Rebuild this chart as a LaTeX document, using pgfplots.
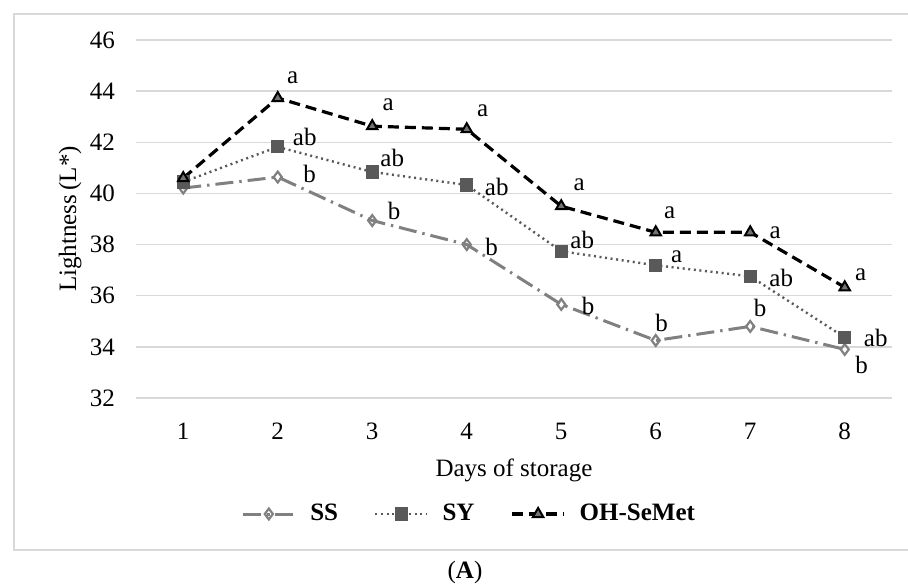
\documentclass[border=0pt]{standalone}
\usepackage{pgfplots}
\usepackage{pgfplotstable}
\pgfplotsset{compat=1.18}
\usepackage{fontspec}
\setmainfont{Liberation Serif}

\definecolor{ssgray}{HTML}{808080}
\definecolor{sygray}{HTML}{595959}
\definecolor{gridgray}{HTML}{D9D9D9}
\newcommand\chartfont{\fontsize{12.5}{15}\selectfont}

% x, lightness, letter, label offset (pt)
\pgfplotstableread{
x y lab dx dy
1 40.21 {} 0 0
2 40.64 b 16 1.5
3 38.94 b 11 5
4 38.00 b 12.5 -1
5 35.66 b 13.5 -1
6 34.25 b 3 9
7 34.80 b 5 9
8 33.90 b 8.5 -8
}\ss
\pgfplotstableread{
x y lab dx dy
1 40.45 {} 0 0
2 41.82 ab 13.5 5
3 40.84 ab 10 7
4 40.33 ab 15 -1
5 37.74 ab 10.5 5.5
6 37.19 a 10.5 4.5
7 36.76 ab 15.5 -1
8 34.37 ab 15.5 -0.5
}\sy
\pgfplotstableread{
x y lab dx dy
1 40.60 {} 0 0
2 43.73 a 7.5 10
3 42.63 a 8 10.5
4 42.51 a 8 9
5 39.50 a 9 10.5
6 38.48 a 7 10
7 38.48 a 12.5 0
8 36.33 a 8 6.5
}\oh

\begin{document}
\begin{tikzpicture}[font=\chartfont]
\begin{axis}[
  name=ax,
  scale only axis,
  width=378pt, height=179pt,
  xmin=0.5, xmax=8.5,
  ymin=32, ymax=46,
  xtick={1,...,8},
  ytick={32,34,...,46},
  axis line style={draw=none},
  tick style={draw=none},
  ymajorgrids,
  grid style={gridgray, line width=0.75pt},
  major tick length=0pt,
  /pgf/number format/assume math mode=true,
  tick label style={font=\chartfont},
  label style={font=\chartfont},
  xticklabel style={yshift=-9pt},
  yticklabel style={xshift=-7pt},
  xlabel={Days of storage},
  xlabel style={at={(axis description cs:0.5,-0.201)}, anchor=center},
  ylabel={Lightness\,(L*)},
  ylabel style={at={(axis description cs:-0.087,0.5)}, anchor=center, rotate=0},
  legend columns=3,
  legend style={draw=none, fill=none, font=\chartfont\bfseries,
    at={(axis description cs:0.442,-0.324)}, anchor=center,
    /tikz/every odd column/.append style={column sep=5pt},
    /tikz/every even column/.append style={column sep=16pt}},
  legend image code/.code={
    \draw[mark repeat=2, mark phase=2, #1]
      plot coordinates {(0pt,0pt) (13pt,0pt) (26pt,0pt)};},
  nodes near coords,
  point meta=explicit symbolic,
  visualization depends on={\thisrow{dx} \as \dx},
  visualization depends on={\thisrow{dy} \as \dy},
  nodes near coords style={anchor=center, xshift=\dx pt, yshift=\dy pt,
    text=black, inner sep=0pt, font=\chartfont},
]
\addplot[ssgray, line width=1.5pt, dash pattern=on 9pt off 3pt on 1.2pt off 3pt,
  mark=diamond, mark size=2.7pt,
  mark options={solid, line width=1.1pt, fill=white}]
  table[x=x, y=y, meta=lab] {\ss};
\addlegendentry{SS}
\addplot[sygray, line width=1.2pt, dash pattern=on 1pt off 1.8pt,
  mark=square*, mark size=2.7pt,
  mark options={solid, fill=sygray, draw=sygray}]
  table[x=x, y=y, meta=lab] {\sy};
\addlegendentry{SY}
\addplot[black, line width=1.6pt, dash pattern=on 5.5pt off 3pt,
  mark=triangle*, mark size=3pt,
  mark options={solid, line width=1pt, draw=black, fill=black!55}]
  table[x=x, y=y, meta=lab] {\oh};
\addlegendentry{OH-SeMet}
\end{axis}
\draw[gridgray, line width=0.75pt]
  ([shift={(400pt,192pt)}]ax.south west) -- ([shift={(-61pt,192pt)}]ax.south west)
  -- ([shift={(-61pt,-76pt)}]ax.south west) -- ([shift={(400pt,-76pt)}]ax.south west);
\node[anchor=center] at ([shift={(164.5pt,-87pt)}]ax.south west) {(\textbf{A})};
\pgfresetboundingbox
\path[use as bounding box] ([shift={(-68pt,-92.5pt)}]ax.south west)
  rectangle ([shift={(386pt,199pt)}]ax.south west);
\end{tikzpicture}
\end{document}
